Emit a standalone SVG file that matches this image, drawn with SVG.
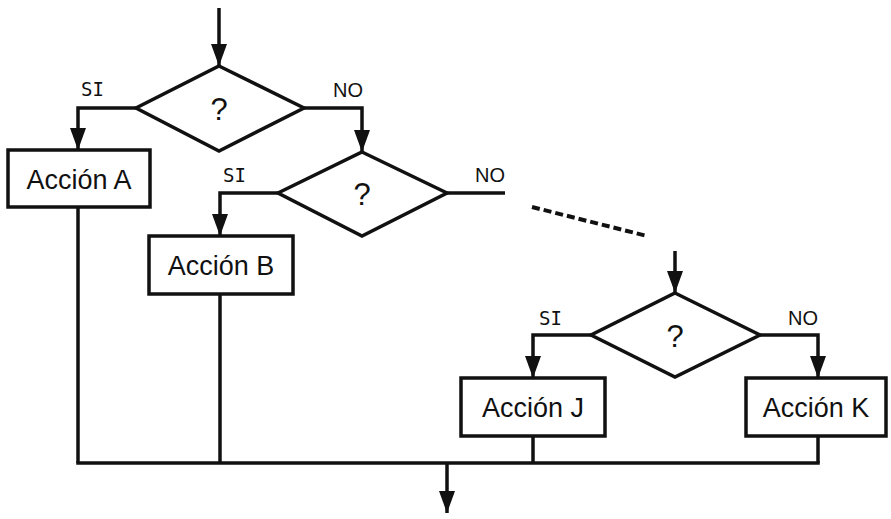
<svg xmlns="http://www.w3.org/2000/svg" width="891" height="519" viewBox="0 0 891 519">
  <style>
    .shape { fill: #ffffff; stroke: #111111; stroke-width: 3.5; stroke-linejoin: miter; }
    .wire { fill: none; stroke: #111111; stroke-width: 3.5; stroke-linejoin: miter; }
    .arrow { marker-end: url(#head); }
    .dash { fill: none; stroke: #111111; stroke-width: 4; stroke-dasharray: 8 4; }
    .act { font-family: "Liberation Sans", Arial, sans-serif; font-size: 27px; fill: #111111; text-anchor: middle; }
    .q { font-family: "Liberation Sans", Arial, sans-serif; font-size: 31px; fill: #111111; text-anchor: middle; }
    .si { font-family: "DejaVu Sans Mono", monospace; font-size: 19px; fill: #111111; }
    .no { font-family: "Liberation Sans", Arial, sans-serif; font-size: 20px; fill: #111111; }
  </style>
  <defs>
    <marker id="head" markerUnits="userSpaceOnUse" markerWidth="24" markerHeight="18" refX="22" refY="8" orient="auto">
      <path d="M0,0 L22,8 L0,16 z" fill="#111111"/>
    </marker>
  </defs>
  <rect width="891" height="519" fill="#ffffff"/>

  <g id="connectors">
    <!-- entry into first decision -->
    <line class="wire arrow" x1="219" y1="8" x2="219" y2="66"/>
    <!-- first decision branches -->
    <polyline class="wire arrow" points="136,108 78,108 78,150"/>
    <polyline class="wire arrow" points="304,108 362,108 362,152"/>
    <!-- second decision branches -->
    <polyline class="wire arrow" points="278,193 220,193 220,236"/>
    <line class="wire" x1="447" y1="193" x2="505" y2="193"/>
    <!-- elided chain of decisions -->
    <line class="dash" x1="532" y1="207" x2="647" y2="236"/>
    <line class="wire arrow" x1="675" y1="251" x2="675" y2="293"/>
    <!-- last decision branches -->
    <polyline class="wire arrow" points="591,335 533,335 533,378"/>
    <polyline class="wire arrow" points="760,335 818,335 818,378"/>
    <!-- merge bus -->
    <line class="wire" x1="78" y1="207" x2="78" y2="463"/>
    <line class="wire" x1="220" y1="294" x2="220" y2="463"/>
    <line class="wire" x1="533" y1="436" x2="533" y2="463"/>
    <line class="wire" x1="818" y1="436" x2="818" y2="463"/>
    <line class="wire" x1="76.25" y1="463" x2="819.75" y2="463"/>
    <line class="wire arrow" x1="447" y1="463" x2="447" y2="513"/>
  </g>

  <g id="decision1">
    <polygon class="shape" points="219,66 304,108 219,151 136,108"/>
    <text class="q" x="219" y="120">?</text>
    <text class="si" x="81" y="96">SI</text>
    <text class="no" x="333" y="97">NO</text>
  </g>

  <g id="actionA">
    <rect class="shape" x="8" y="150" width="142" height="57"/>
    <text class="act" x="79" y="189">Acción A</text>
  </g>

  <g id="decision2">
    <polygon class="shape" points="362,152 447,193 362,236 278,193"/>
    <text class="q" x="362" y="205">?</text>
    <text class="si" x="223" y="182">SI</text>
    <text class="no" x="475" y="182">NO</text>
  </g>

  <g id="actionB">
    <rect class="shape" x="149" y="236" width="144" height="58"/>
    <text class="act" x="221" y="275">Acción B</text>
  </g>

  <g id="decision3">
    <polygon class="shape" points="675,293 760,335 675,377 591,335"/>
    <text class="q" x="675" y="347">?</text>
    <text class="si" x="539" y="325">SI</text>
    <text class="no" x="788" y="325">NO</text>
  </g>

  <g id="actionJ">
    <rect class="shape" x="461" y="378" width="144" height="58"/>
    <text class="act" x="533" y="417">Acción J</text>
  </g>

  <g id="actionK">
    <rect class="shape" x="746" y="378" width="140" height="58"/>
    <text class="act" x="816" y="417">Acción K</text>
  </g>
</svg>
